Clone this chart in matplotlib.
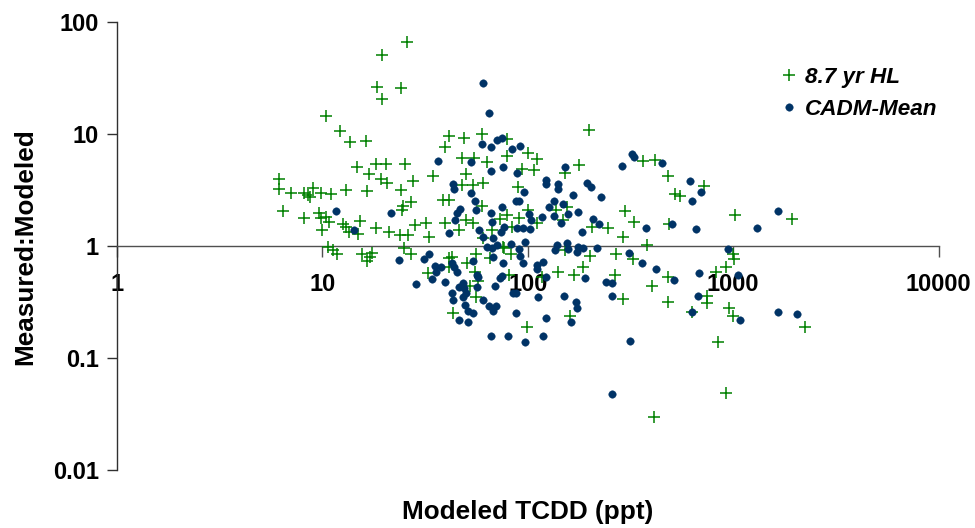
import matplotlib
matplotlib.use("Agg")
import matplotlib.pyplot as plt
from matplotlib.ticker import FixedLocator, FixedFormatter, NullLocator

plt.rcParams['font.family'] = ['Liberation Sans', 'DejaVu Sans']
plt.rcParams['font.weight'] = 'bold'

# ---- data ----
green_label = "8.7 yr HL"
blue_label = "CADM-Mean"

green_x = [25.9, 19.5, 18.5, 24.2, 19.5, 10.4, 12.2, 13.7, 16.3, 14.8, 18.3, 20.4, 25.3, 16.9, 19.3,
           20.7, 27.7, 34.6, 41.4, 39.6, 49, 59.9, 79, 199, 100, 111, 79, 47.9, 54.8, 63.4,
           178, 152, 107, 93.8, 50.1, 60.6, 54.2, 47.9, 89.7, 24.2, 16.5, 13.1, 38.7, 41.4, 59.9,
           27.0, 24.7, 24.5, 100, 79, 90.7, 50.1, 54.2, 39.6, 32, 28.3, 18.3, 21.1, 23.9, 26.2,
           33.1, 46.3, 67, 73.3, 83.9, 111, 148, 137, 155, 206, 246, 291, 298, 60.6, 75.8,
           6.16, 6.16, 7.05, 6.45, 8.15, 8.72, 9.02, 9.87, 8.15, 9.65, 9.87, 10, 10.4, 8.53, 11.0,
           12.6, 13.1, 15.3, 13.5, 14.9, 10.8, 10.7, 11.3, 11.8, 15.6, 16.5, 17.5, 17.1, 25, 27,
           32.7, 41.4, 41.4, 50.7, 56, 65.5, 76.7, 82.9, 55.4, 57.3, 52.4, 56, 43.3, 99, 81,
           117, 140, 168, 186, 201, 269, 266, 291, 161, 381, 325, 403, 482, 482, 630,
           746, 746, 825, 922, 1000, 1010, 954, 1000, 843, 922, 412, 2236, 364, 416, 482,
           521, 551, 721, 329, 487, 1020, 1932, 152, 42.8]
green_y = [66, 50.5, 26.2, 25.7, 20.5, 14.5, 10.6, 8.5, 8.7, 5.1, 5.4, 5.4, 5.4, 4.4, 4.0,
           3.7, 3.8, 4.2, 9.6, 7.7, 9.2, 10.0, 9.0, 10.9, 6.8, 6.0, 6.4, 6.1, 6.1, 5.6,
           5.3, 4.5, 4.8, 4.9, 4.4, 3.7, 3.5, 3.5, 3.4, 3.2, 3.1, 3.2, 2.6, 2.6, 2.3,
           2.5, 2.3, 2.1, 2.1, 1.9, 1.8, 1.7, 1.6, 1.6, 1.6, 1.55, 1.45, 1.34, 1.26, 1.26,
           1.21, 1.40, 1.4, 1.75, 1.49, 1.61, 1.71, 2.1, 2.24, 1.49, 1.45, 1.21, 2.06, 1.19, 0.99,
           4.0, 3.24, 2.98, 2.06, 2.98, 2.75, 3.3, 2.98, 1.79, 1.98, 1.79, 1.40, 1.82, 2.86, 2.92,
           1.58, 1.49, 1.68, 1.34, 1.29, 1.65, 0.985, 0.93, 0.85, 0.85, 0.74, 0.87, 0.80, 0.97, 0.85,
           0.58, 0.79, 0.65, 0.71, 0.85, 0.79, 0.97, 0.85, 0.59, 0.49, 0.44, 0.35, 0.255, 0.19, 0.555,
           0.53, 0.59, 0.555, 0.65, 0.82, 0.85, 0.555, 0.34, 0.24, 1.03, 0.77, 0.44, 0.53, 0.32, 0.26,
           0.36, 0.31, 0.59, 0.65, 0.85, 0.77, 0.28, 0.24, 0.138, 0.049, 0.030, 0.19, 5.75, 5.9, 4.2,
           2.92, 2.8, 3.44, 1.65, 1.58, 1.90, 1.75, 0.93, 0.80]

blue_x = [60.6, 64.8, 59.9, 66.3, 70.9, 75, 83.9, 91.7, 36.6, 53,
          66.3, 75.8, 88.7, 152, 288, 43.3, 43.8, 53, 55.4, 56,
          46.8, 45.3, 44.3, 41.4, 66.3, 75, 95.9, 87.7, 90.7, 123,
          123, 140, 140, 166, 194, 203, 227, 134, 148, 127,
          157, 176, 134, 145, 208, 222, 184, 101, 104, 117,
          88.7, 94.9, 103, 67, 67.8, 60.6, 57.9, 74.2, 76.7, 97,
          82.9, 70.9, 63.4, 139, 155, 176, 217, 11.7, 14.3, 21.6,
          23.6, 28.6, 31.3, 33.1, 35.4, 37.9, 35.8, 34.2, 39.6, 42.8,
          43.8, 45.3, 42.8, 43.3, 46.3, 51.2, 48.4, 46.3, 49, 50.1,
          48.4, 49.5, 51.2, 54.2, 54.2, 56.7, 57.3, 56.7, 60.6, 64.8,
          67.8, 70.1, 69.3, 73.3, 75, 75.8, 67, 67.8, 90.7, 91.7,
          94.9, 84.8, 87.7, 87.7, 112, 123, 111, 111, 119, 123,
          66.3, 80.2, 97, 119, 157, 174, 186, 190, 240, 257,
          257, 150, 172, 174, 162, 311, 314, 257, 360, 421,
          515, 682, 674, 630, 943, 1055, 1079, 1652, 2045, 322,
          329, 450, 616, 697, 630, 376, 504, 659, 1306, 1652,
          136]
blue_y = [28.5, 15.4, 8.1, 7.7, 8.8, 9.2, 7.35, 7.8, 5.75, 5.6,
          4.7, 5.1, 4.5, 5.1, 5.2, 3.6, 3.24, 2.98, 2.53, 2.1,
          2.15, 1.98, 1.72, 1.31, 1.98, 2.24, 3.04, 2.53, 2.53, 3.9,
          3.6, 3.6, 3.24, 2.86, 3.66, 3.37, 2.75, 2.53, 2.38, 2.24,
          1.94, 2.02, 1.86, 1.61, 1.75, 1.58, 1.34, 1.94, 1.72, 1.82,
          1.45, 1.45, 1.43, 1.65, 1.19, 1.21, 1.40, 1.34, 1.49, 1.09,
          1.05, 1.03, 0.99, 1.03, 1.07, 0.99, 0.97, 2.06, 1.40, 1.98,
          0.755, 0.46, 0.77, 0.85, 0.67, 0.65, 0.59, 0.51, 0.48, 0.71,
          0.65, 0.59, 0.38, 0.33, 0.22, 0.21, 0.47, 0.43, 0.42, 0.38,
          0.35, 0.30, 0.265, 0.255, 0.74, 0.555, 0.53, 0.43, 0.33, 0.29,
          0.265, 0.29, 0.44, 0.52, 0.54, 0.70, 0.97, 0.80, 0.95, 0.82,
          0.71, 0.38, 0.38, 0.255, 0.35, 0.23, 0.68, 0.63, 0.72, 0.53,
          0.156, 0.159, 0.14, 0.156, 0.95, 0.89, 0.97, 0.52, 0.48, 0.47,
          0.36, 0.36, 0.32, 0.28, 0.21, 0.87, 0.143, 0.048, 0.71, 0.63,
          0.50, 0.58, 0.36, 0.26, 0.95, 0.555, 0.22, 0.26, 0.25, 6.6,
          6.2, 5.5, 3.8, 3.04, 2.53, 1.45, 1.58, 1.43, 1.45, 2.06,
          0.93]

x_ticks = [1, 10, 100, 1000, 10000]
x_tick_labels = ["1", "10", "100", "1000", "10000"]
y_ticks = [0.01, 0.1, 1, 10, 100]
y_tick_labels = ["0.01", "0.1", "1", "10", "100"]

# ---- figure ----
fig = plt.figure(figsize=(9.75, 5.28), dpi=100)
ax = fig.add_axes([0.1197, 0.1098, 0.8431, 0.848])
ax.set_xscale('log')
ax.set_yscale('log')

ax.plot(green_x, green_y, linestyle='none', marker='+', color='#008000',
        markersize=8.8, markeredgewidth=1.1, label=green_label, zorder=3)
ax.plot(blue_x, blue_y, linestyle='none', marker='o', color='#003366',
        markeredgecolor='#003366', markersize=5.4, markeredgewidth=0.3,
        label=blue_label, zorder=4)

ax.set_xlim(1, 10000)
ax.set_ylim(0.01, 100)

ax.xaxis.set_major_locator(FixedLocator(x_ticks))
ax.xaxis.set_major_formatter(FixedFormatter(x_tick_labels))
ax.yaxis.set_major_locator(FixedLocator(y_ticks))
ax.yaxis.set_major_formatter(FixedFormatter(y_tick_labels))
ax.xaxis.set_minor_locator(NullLocator())
ax.yaxis.set_minor_locator(NullLocator())

for s in ['top', 'right']:
    ax.spines[s].set_visible(False)
ax.spines['bottom'].set_position(('data', 1))
ax.spines['bottom'].set_color('#505050')
ax.spines['left'].set_color('#303030')
ax.spines['bottom'].set_linewidth(1.0)
ax.spines['left'].set_linewidth(1.0)

ax.tick_params(axis='x', direction='out', length=8, width=1, color='#505050',
               pad=11, labelsize=17)
ax.tick_params(axis='y', direction='out', length=7, width=1, color='#303030',
               pad=6, labelsize=17)

ax.set_xlabel("Modeled TCDD (ppt)", fontsize=18.8, fontweight='bold')
ax.xaxis.set_label_coords(0.5, -0.067)
ax.set_ylabel("Measured:Modeled", fontsize=18.8, fontweight='bold')
ax.yaxis.set_label_coords(-0.097, 0.5)

leg = ax.legend(loc='upper left', bbox_to_anchor=(0.8, 0.873),
                bbox_transform=fig.transFigure, frameon=False,
                prop=dict(family='Liberation Sans', style='italic', weight='bold', size=16.2),
                handlelength=0.8, handletextpad=0.3, labelspacing=0.485,
                borderpad=0, borderaxespad=0, numpoints=1)

fig.savefig("out.png", dpi=100)
